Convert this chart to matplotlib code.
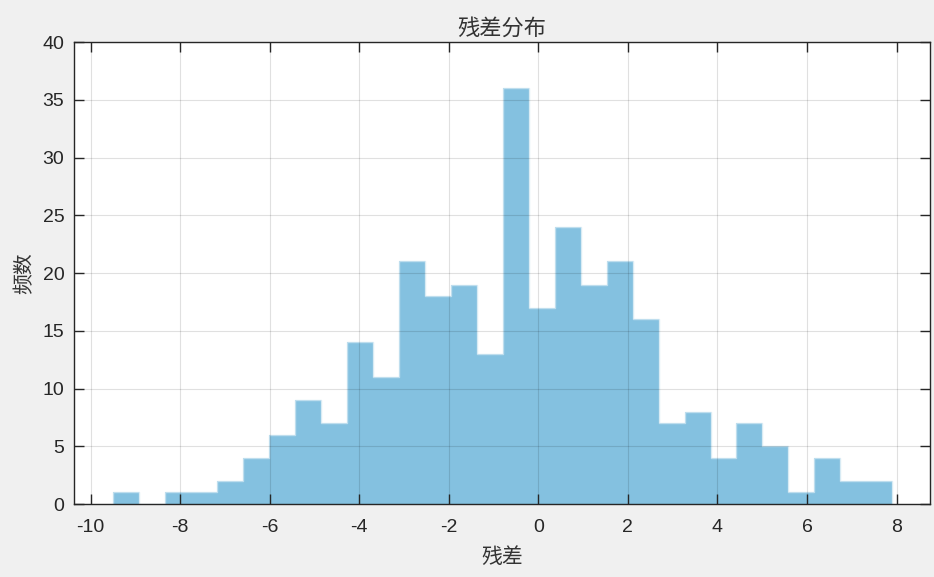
import numpy as np
import matplotlib
matplotlib.use("Agg")
import matplotlib.pyplot as plt

plt.rcParams['font.family'] = ['Liberation Sans', 'Noto Sans CJK SC', 'DejaVu Sans']
plt.rcParams['axes.unicode_minus'] = False

# Histogram data (30 bins)
bin_start = -9.502
bin_end = 7.906
counts = [1, 0, 1, 1, 2, 4, 6, 9, 7, 14, 11, 21, 18, 19, 13, 36, 17, 24, 19, 21,
          16, 7, 8, 4, 7, 5, 1, 4, 2, 2]
xticks = [-10, -8, -6, -4, -2, 0, 2, 4, 6, 8]
yticks = [0, 5, 10, 15, 20, 25, 30, 35, 40]
title = "残差分布"
xlabel = "残差"
ylabel = "频数"

edges = np.linspace(bin_start, bin_end, len(counts) + 1)

fig = plt.figure(figsize=(9.34, 5.77), dpi=100, facecolor='#f0f0f0')
ax = fig.add_axes([0.0792, 0.1265, 0.9165, 0.8007])
ax.set_facecolor('white')

ax.stairs(counts, edges, fill=True, facecolor='#3399cc', alpha=0.6,
          edgecolor='none', zorder=2)
ax.stairs(counts, edges, fill=False, edgecolor='#cfe6f2', linewidth=1.0,
          alpha=0.8, zorder=2.1)

ax.set_xlim(-10.37, 8.745)
ax.set_ylim(0, 40)
ax.set_xticks(xticks)
ax.set_yticks(yticks)
ax.grid(True, color='black', alpha=0.12, linewidth=0.8, zorder=3)
ax.set_axisbelow(False)

for s in ax.spines.values():
    s.set_color('#262626')
    s.set_linewidth(1.0)
    s.set_zorder(5)

ax.tick_params(direction='in', length=7, width=1.0, colors='#262626',
               labelsize=14, top=True, right=True)
ax.tick_params(axis='x', pad=11)
ax.tick_params(axis='y', pad=7)
for lab in ax.get_xticklabels() + ax.get_yticklabels():
    lab.set_color('#262626')

cjk = ['Noto Sans CJK SC', 'DejaVu Sans']
ax.set_title(title, family=cjk, fontsize=16, color='#333333', pad=5)
ax.set_xlabel(xlabel, family=cjk, fontsize=15, color='#333333', labelpad=7)
ax.set_ylabel(ylabel, family=cjk, fontsize=15, color='#333333', labelpad=5)

fig.savefig('out.png', dpi=100, facecolor=fig.get_facecolor())
